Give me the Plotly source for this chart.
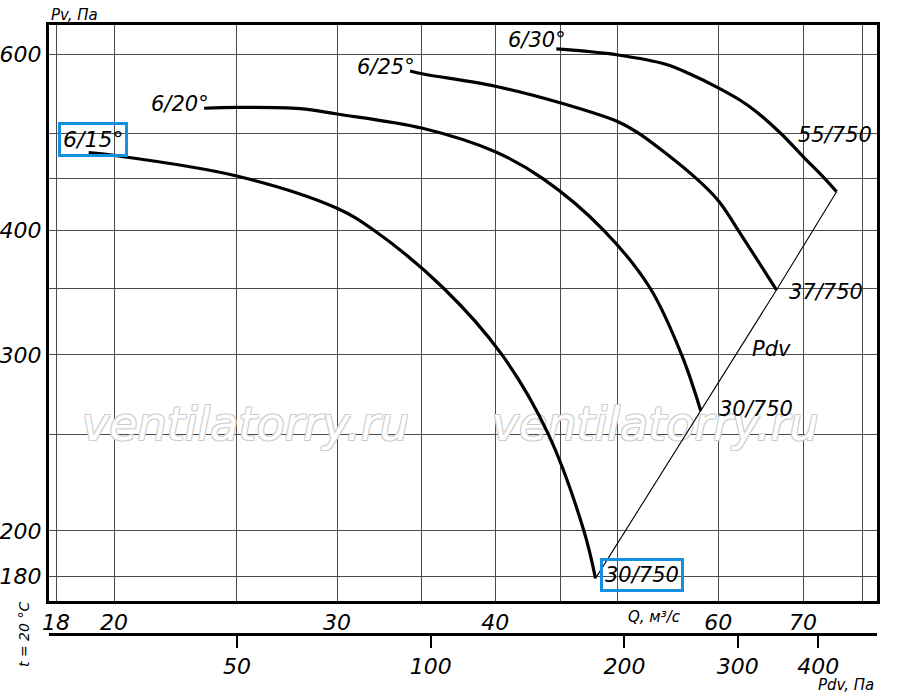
import plotly.graph_objects as go

# ---- data ----
q_15 = [19.1, 20.0, 25.0, 30.0, 32.0, 36.4, 40.5, 44.05, 47.0, 48.0]
pv_15 = [478, 475, 453, 420.5, 400.7, 350, 300, 250, 200, 179.3]

q_20 = [23.56, 25.0, 28.05, 30.0, 35.05, 40.0, 43.65, 48.7, 53.0, 56.14, 58.12]
pv_20 = [529.5, 530.5, 529.0, 522.5, 505.6, 479, 450, 400, 350, 300, 263.8]

q_25 = [34.26, 35.1, 40.0, 45.0, 50.0, 51.9, 57.7, 60.1, 62.2, 66.7]
pv_25 = [577, 573, 557, 536.3, 513.4, 500, 450, 427, 400, 348.4]

q_30 = [44.7, 50.0, 54.6, 57.0, 59.9, 62.4, 64.3, 67.3, 70.1, 72.85, 74.4]
pv_30 = [607, 598.6, 585.7, 573, 555.7, 539.7, 525.3, 499.0, 472.9, 450, 436.9]

q_pdv = [48.0, 58.1, 66.7, 74.4]
pv_pdv = [179.3, 263.8, 348.4, 436.9]

q_tickvals = [18, 20, 25, 30, 35, 40, 45, 50, 60, 70, 78]
q_ticktext = ["18", "20", "", "30", "", "40", "", "", "60", "70", ""]
pv_tickvals = [180, 200, 250, 300, 350, 400, 450, 500, 600]
pv_ticktext = ["180", "200", "", "300", "", "400", "", "", "600"]
pdv_tickvals = [50, 100, 200, 300, 400]

curve_names = ["6/15°", "6/20°", "6/25°", "6/30°"]
motor_names = ["30/750", "30/750", "37/750", "55/750"]
watermark = "ventilatorry.ru"
wm_q = [25.4, 53.5]
wm_pv = [253.5, 253.5]

# ---- layout (page pixels) ----
W, H = 900, 696
X0, X1, Y0, Y1 = 49, 877, 25, 634          # plot paper box in pixels
L, R, T, B = X0, W - X1, Y0, H - Y1
PW, PH = X1 - X0, Y1 - Y0


def px(x):
    return (x - X0) / PW


def py(y):
    return (Y1 - y) / PH


FONT = "DejaVu Sans"
fig = go.Figure()

# watermark (behind curves)
fig.add_trace(go.Scatter(
    x=wm_q, y=wm_pv, mode="text", text=[watermark, watermark],
    textfont=dict(family=FONT, size=46, color="white", style="italic",
                  shadow="-1px -1px 0 #cdcdcd, 1px -1px 0 #cdcdcd, -1px 1px 0 #cdcdcd, 1px 1px 0 #cdcdcd"),
    hoverinfo="skip", showlegend=False))

fig.add_trace(go.Scatter(x=q_pdv, y=pv_pdv, mode="lines",
                         line=dict(color="black", width=1.1), showlegend=False))
for qs, ps in [(q_15, pv_15), (q_20, pv_20), (q_25, pv_25), (q_30, pv_30)]:
    fig.add_trace(go.Scatter(x=qs, y=ps, mode="lines",
                             line=dict(color="black", width=3.2, shape="spline", smoothing=1.0),
                             showlegend=False))

# invisible trace so the Pdv axis is drawn
fig.add_trace(go.Scatter(x=[100], y=[300], xaxis="x2", mode="markers",
                         marker=dict(opacity=0), hoverinfo="skip", showlegend=False))

tickfont = dict(family=FONT, size=22, color="black", style="italic")

fig.update_layout(
    width=W, height=H, margin=dict(l=L, r=R, t=T, b=B),
    paper_bgcolor="white", plot_bgcolor="white", showlegend=False,
    xaxis=dict(type="log", range=[1.2497, 1.9035], tickmode="array",
               tickvals=q_tickvals, ticktext=q_ticktext, ticks="",
               showgrid=True, gridcolor="#4a4a4a", gridwidth=1,
               showline=True, linecolor="black", linewidth=3, mirror=True,
               tickfont=tickfont, zeroline=False, anchor="y", automargin=False,
               ticklabelstandoff=0),
    yaxis=dict(type="log", range=[2.23096, 2.80716], tickmode="array",
               tickvals=pv_tickvals, ticktext=pv_ticktext, ticks="",
               showgrid=True, gridcolor="#4a4a4a", gridwidth=1,
               showline=True, linecolor="black", linewidth=3, mirror=True,
               tickfont=tickfont, zeroline=False, domain=[(Y1 - 601) / PH, 1],
               automargin=False),
    xaxis2=dict(type="log", range=[1.4068, 2.6935], overlaying="x", anchor="free",
                position=0, side="bottom", tickmode="array", tickvals=pdv_tickvals,
                ticks="outside", ticklen=12, tickwidth=1.5, tickcolor="black",
                showgrid=False, showline=True, linecolor="black", linewidth=2.5,
                tickfont=tickfont, zeroline=False, automargin=False),
)

BLUE = "#1590e0"
ann = []


def label(text, x, y, size=21, **kw):
    d = dict(text=text, x=px(x), y=py(y), xref="paper", yref="paper",
             showarrow=False, xanchor="center", yanchor="middle",
             font=dict(family=FONT, size=size, color="black", style="italic"))
    d.update(kw)
    ann.append(d)


label("Pv, Па", 74, 15, size=15)
label(curve_names[0], 93, 139, size=22, bordercolor=BLUE, borderwidth=3, borderpad=2)
label(curve_names[1], 180, 104)
label(curve_names[2], 386, 67)
label(curve_names[3], 537, 40)
label(motor_names[3], 835, 135)
label(motor_names[2], 826, 292)
label(motor_names[1], 756, 409)
label("Pdv", 771, 349)
label(motor_names[0], 642, 575, bordercolor=BLUE, borderwidth=3, borderpad=2)
label("Q, м³/с", 654, 617, size=15)
label("Pdv, Па", 846, 685, size=15)
label("t = 20 °C", 24, 635, size=14, textangle=-90)

fig.update_layout(annotations=ann)
fig.write_html("out.html", config={"displayModeBar": False},
               post_script="document.body.style.margin='0px';")
